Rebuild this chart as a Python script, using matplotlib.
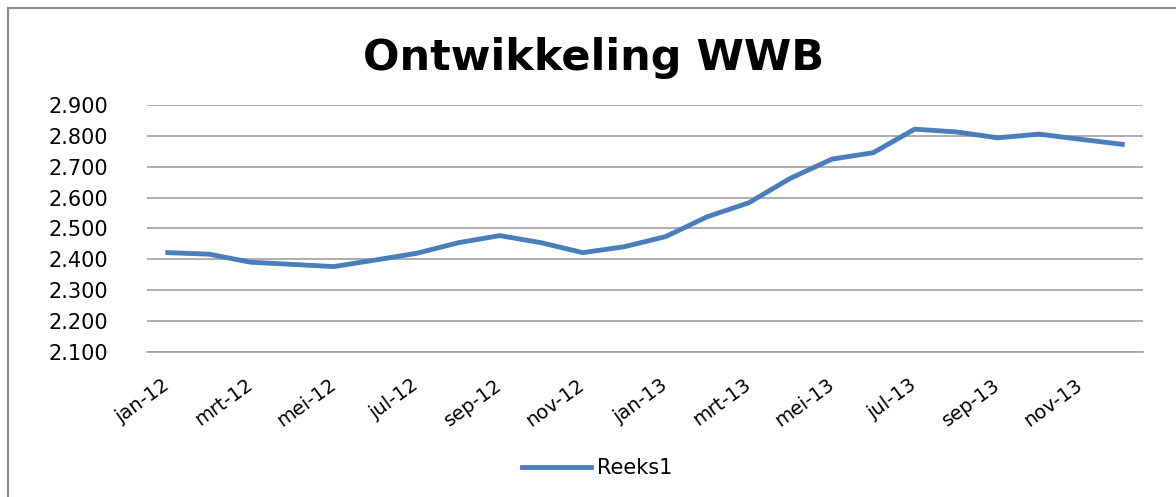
import matplotlib.pyplot as plt
from matplotlib.patches import Rectangle
from matplotlib.ticker import FuncFormatter

months = ["jan-12", "feb-12", "mrt-12", "apr-12", "mei-12", "jun-12",
          "jul-12", "aug-12", "sep-12", "okt-12", "nov-12", "dec-12",
          "jan-13", "feb-13", "mrt-13", "apr-13", "mei-13", "jun-13",
          "jul-13", "aug-13", "sep-13", "okt-13", "nov-13", "dec-13"]
wwb = [2422, 2417, 2391, 2384, 2377, 2398, 2420, 2454, 2477, 2454, 2422, 2441,
       2474, 2538, 2583, 2662, 2724, 2745, 2821, 2812, 2793, 2805, 2788, 2772]
y_ticks = [2100, 2200, 2300, 2400, 2500, 2600, 2700, 2800, 2900]

fig = plt.figure(figsize=(11.76, 4.97), dpi=100)
ax = fig.add_axes([147 / 1176, 1 - 352.3 / 497, 996 / 1176, 247.6 / 497])

# outer chart border (only left and top are visible in the crop)
fig.patches.append(Rectangle((8 / 1176, -0.1), 1.2, (497 - 8) / 497 + 0.1,
                             transform=fig.transFigure, fill=False,
                             edgecolor="#8c8c8c", linewidth=1.5))

x = list(range(len(months)))
ax.plot(x, wwb, color="#4a7ebb", linewidth=3.5, label="Reeks1",
        solid_joinstyle="round")

ax.set_xlim(-0.5, len(months) - 0.5)
ax.set_ylim(2100, 2900)
ax.set_yticks(y_ticks)
ax.yaxis.set_major_formatter(FuncFormatter(lambda v, _: f"{v:,.0f}".replace(",", ".")))
ax.grid(axis="y", color="#a0a0a0", linewidth=1.2)
ax.set_axisbelow(True)

ax.set_xticks(x[::2])
ax.set_xticklabels(months[::2], rotation=36, ha="right", va="center",
                   rotation_mode="anchor", fontsize=14)
ax.tick_params(axis="x", length=0, pad=22)
ax.tick_params(axis="y", length=0, pad=28, labelsize=15)

for side in ["top", "right", "left"]:
    ax.spines[side].set_visible(False)
ax.spines["bottom"].set_color("#a0a0a0")
ax.spines["bottom"].set_linewidth(1.2)

fig.text(0.505, 1 - 70 / 497, "Ontwikkeling WWB", ha="center", va="baseline",
         fontsize=31, fontweight="bold")

fig.legend(loc="center", bbox_to_anchor=(0.508, 1 - 468 / 497), frameon=False,
           fontsize=15, handlelength=3.3, handletextpad=0.3)

fig.savefig("out.png", dpi=100)
